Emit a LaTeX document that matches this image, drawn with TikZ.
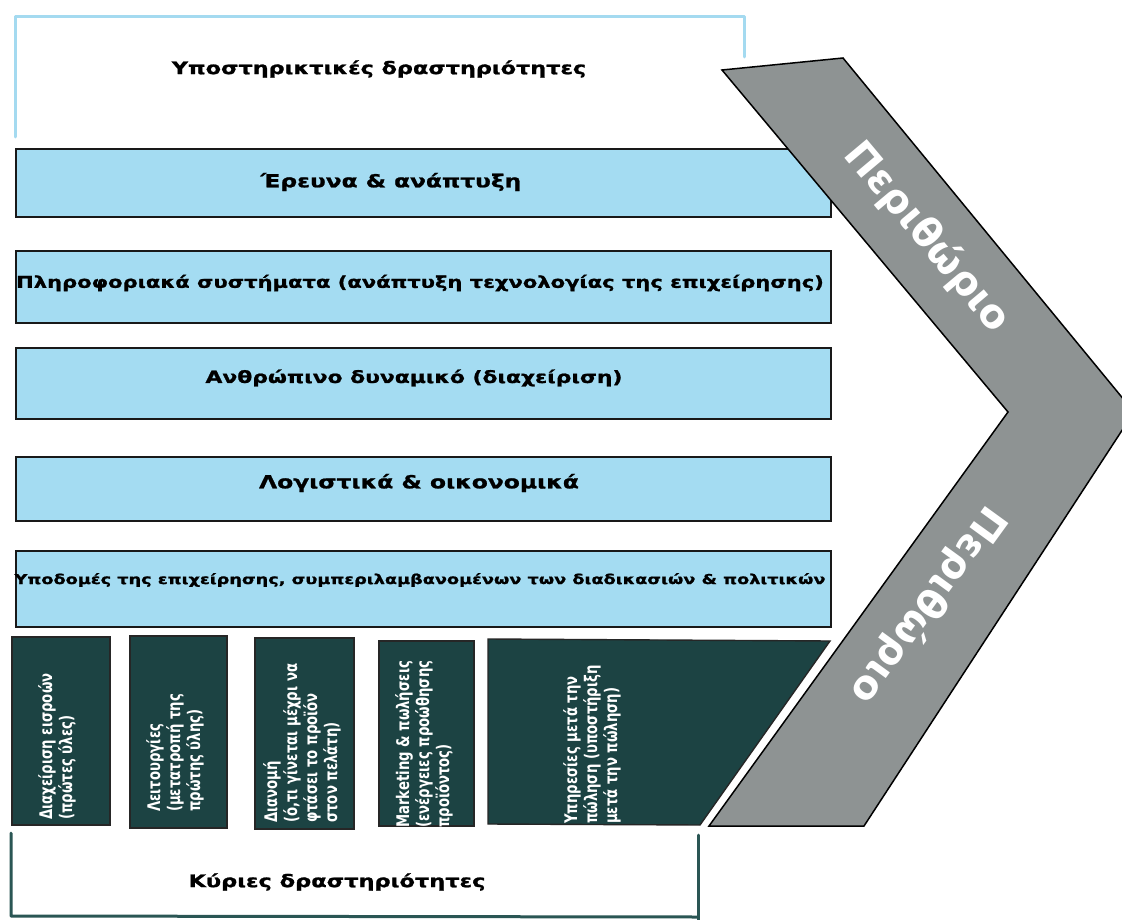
\documentclass[tikz,border=0pt]{standalone}
\usepackage{fontspec}
\setmainfont{DejaVu Sans}
\newfontfamily\widesans[FakeStretch=1.3, BoldFeatures={FakeBold=1.2}]{DejaVu Sans}
\newfontfamily\narrowsans[FakeStretch=0.76]{DejaVu Sans}
\definecolor{supblue}{RGB}{164,220,242}
\definecolor{primteal}{RGB}{28,67,67}
\definecolor{margingray}{RGB}{142,147,147}
\definecolor{bracketblue}{RGB}{164,218,240}
\definecolor{bracketteal}{RGB}{42,86,84}
\newcommand{\wfs}[2]{\widesans\bfseries\fontsize{#1}{#2}\selectfont}
\newcommand{\nfs}[2]{\narrowsans\bfseries\fontsize{#1}{#2}\selectfont}
\tikzset{
  supbox/.style={draw=black!90, line width=1.8pt, fill=supblue, inner sep=0pt, anchor=north west},
  primbox/.style={draw=black!85, line width=1.4pt, fill=primteal},
  suptext/.style={text=black, inner sep=0pt},
  primtext/.style={font=\nfs{17.4}{20}, text=white, rotate=90,
    anchor=west, align=left, inner sep=0pt},
  margintext/.style={font=\bfseries\fontsize{40}{40}\selectfont, text=white, inner sep=0pt},
  bracket/.style={line width=3pt, line cap=round, line join=round}
}
\begin{document}
\begin{tikzpicture}[x=1pt,y=-1pt]
\clip (0,0) rectangle (1122,920);
\fill[white] (0,0) rectangle (1122,920);

% support activities bracket and heading
\draw[bracket, bracketblue] (15,137) -- (15,17) -- (744,17) -- (744,57);
\node[suptext, font=\wfs{17.2}{21}] (suphead) at (379,69) {Υποστηρικτικές δραστηριότητες};

% support activity bars
\node[supbox, minimum width=815, minimum height=68] (rd) at (15,148) {};
\node[supbox, minimum width=815, minimum height=72] (infosys) at (15,250) {};
\node[supbox, minimum width=815, minimum height=71] (hr) at (15,347) {};
\node[supbox, minimum width=815, minimum height=64] (acc) at (15,456) {};
\node[supbox, minimum width=815, minimum height=76] (infra) at (15,550) {};

\node[suptext, font=\wfs{17.9}{21}] (rdtext) at (391,182) {Έρευνα \& ανάπτυξη};
\node[suptext, font=\wfs{16.2}{20}] (infosystext) at (420,283) {Πληροφοριακά συστήματα (ανάπτυξη τεχνολογίας της επιχείρησης)};
\node[suptext, font=\wfs{16.8}{20}] (hrtext) at (414,378) {Ανθρώπινο δυναμικό (διαχείριση)};
\node[suptext, font=\wfs{18}{21}] (acctext) at (419,483) {Λογιστικά \& οικονομικά};
\node[suptext, font=\wfs{13.6}{17}] (infratext) at (420,580) {Υποδομές της επιχείρησης, συμπεριλαμβανομένων των διαδικασιών \& πολιτικών};

% margin chevron
\filldraw[fill=margingray, draw=black, line width=1.5pt, line join=miter]
  (722,70) -- (843,58) -- (1134,412) -- (864,826) -- (709,826) -- (1008,412) -- cycle;
\node[margintext, rotate=-50] (marginup) at (927,237) {Περιθώριο};
\node[margintext, rotate=234] (margindown) at (928,605) {Περιθώριο};

% primary activity blocks
\path[primbox] (12,637) rectangle (110,825);
\path[primbox] (130,636) rectangle (227,828);
\path[primbox] (255,638) rectangle (354,829);
\path[primbox] (379,641) rectangle (474,826);
\path[primbox] (488,639) -- (830,641) -- (700,825) -- (488,824) -- cycle;

\begin{scope}
  \clip (12,637) rectangle (110,825);
  \node[primtext] (inbound) at (57,820) {Διαχείριση εισροών\\(πρώτες ύλες)};
\end{scope}
\begin{scope}
  \clip (130,636) rectangle (227,828);
  \node[primtext] (ops) at (175,812) {Λειτουργίες\\(μετατροπή της\\πρώτης ύλης)};
\end{scope}
\begin{scope}
  \clip (255,638) rectangle (354,829);
  \node[primtext] (outbound) at (302,823) {Διανομή\\(ό,τι γίνεται μέχρι να\\φτάσει το προϊόν\\στον πελάτη)};
\end{scope}
\begin{scope}
  \clip (379,641) rectangle (474,826);
  \node[primtext] (sales) at (424,828) {Marketing \& πωλήσεις\\(ενέργειες προώθησης\\προϊόντος)};
\end{scope}
\begin{scope}
  \clip (488,639) -- (830,641) -- (700,825) -- (488,824) -- cycle;
  \node[primtext] (service) at (592,824) {Υπηρεσίες μετά την\\πώληση (υποστήριξη\\μετά την πώληση)};
\end{scope}

% primary activities bracket and heading
\draw[bracket, bracketteal] (11,833) -- (11,916) -- (697,917);
\draw[bracket, bracketteal] (698,835) -- (698,921);
\node[suptext, font=\wfs{17.3}{21}] (primhead) at (337,882) {Κύριες δραστηριότητες};
\end{tikzpicture}
\end{document}
